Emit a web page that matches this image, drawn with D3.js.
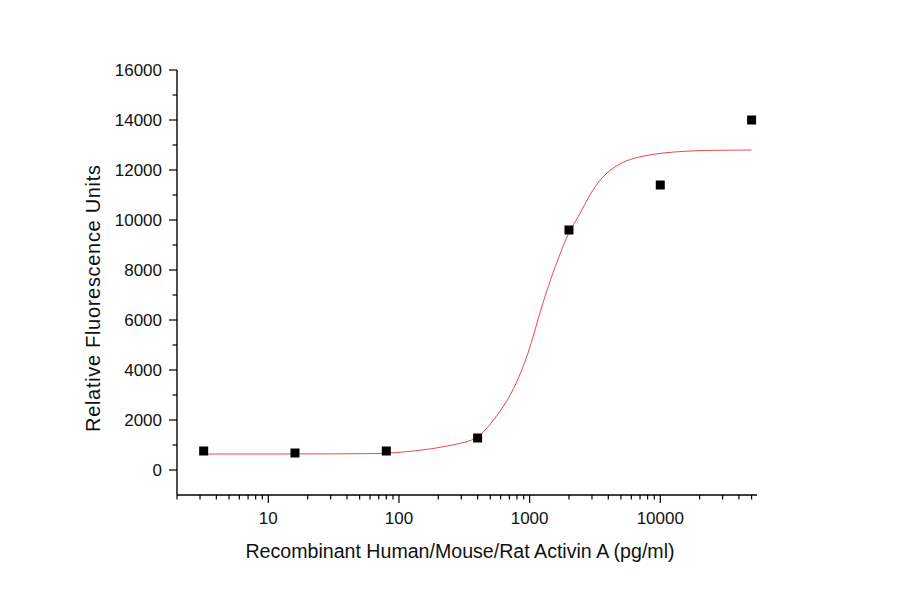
<!DOCTYPE html>
<html lang="en">
<head>
<meta charset="UTF-8" />
<script src="https://cdnjs.cloudflare.com/ajax/libs/d3/7.8.5/d3.min.js"></script>
<title>Activin A dose response</title>
<style>
body { margin: 0; background: #fff; }
svg text { font-family: Arial, "Liberation Sans", sans-serif; fill: #111; }
</style>
</head>
<body>
<svg id="chart" width="900" height="594"></svg>
<script>

// measured points (pg/ml -> RFU)
const conc = [3.2, 16, 80, 400, 2000, 10000, 50000];
const rfu = [760, 680, 760, 1280, 9600, 11400, 14000];

// fitted curve
const fitX = [3.2, 10, 31.6, 60, 87, 157, 237, 320, 403, 511, 686, 830, 978, 1100, 1236, 1400, 1566, 1800, 2042, 2300, 3000, 3790, 5100, 6860, 9770, 15560, 25000, 50000];
const fitY = [640, 640, 645, 655, 668, 800, 960, 1100, 1270, 1870, 2800, 3700, 4670, 5600, 6530, 7400, 8130, 8950, 9630, 10000, 11200, 11870, 12330, 12530, 12670, 12760, 12790, 12800];

const yTicks = [0, 2000, 4000, 6000, 8000, 10000, 12000, 14000, 16000];
const xTicks = [10, 100, 1000, 10000];

const svg = d3.select('#chart');

const x = d3.scaleLog().domain([2, 55000]).range([177, 757]);
const y = d3.scaleLinear().domain([-1000, 16000]).range([495, 70]);

// y axis
const yMinor = d3.range(1000, 16000, 2000);
const yAxis = svg.append('g').attr('transform', 'translate(177,0)');
yAxis.append('line')
  .attr('x1', 0).attr('x2', 0)
  .attr('y1', y(16000)).attr('y2', y(-1000))
  .style('stroke', '#000').style('stroke-width', 1.4);
yAxis.selectAll('.major').data(yTicks).enter().append('line')
  .attr('x1', -8).attr('x2', 0)
  .attr('y1', d => y(d)).attr('y2', d => y(d))
  .style('stroke', '#000').style('stroke-width', 1.2);
yAxis.selectAll('.minor').data(yMinor).enter().append('line')
  .attr('x1', -4.5).attr('x2', 0)
  .attr('y1', d => y(d)).attr('y2', d => y(d))
  .style('stroke', '#000').style('stroke-width', 1.2);
yAxis.selectAll('text').data(yTicks).enter().append('text')
  .attr('x', -15)
  .attr('y', d => y(d))
  .attr('dy', '0.36em')
  .attr('text-anchor', 'end')
  .style('font-size', '17px')
  .text(d => d);

// x axis
const xMinor = [];
[1, 10, 100, 1000, 10000].forEach(dec => {
  for (let k = 2; k <= 9; k++) {
    const v = dec * k;
    if (v >= 2 && v <= 55000) xMinor.push(v);
  }
});
const xAxis = svg.append('g').attr('transform', 'translate(0,' + y(-1000) + ')');
xAxis.append('line')
  .attr('x1', x(2)).attr('x2', x(55000))
  .attr('y1', 0).attr('y2', 0)
  .style('stroke', '#000').style('stroke-width', 1.4);
xAxis.selectAll('.major').data(xTicks).enter().append('line')
  .attr('x1', d => x(d)).attr('x2', d => x(d))
  .attr('y1', 0).attr('y2', 8)
  .style('stroke', '#000').style('stroke-width', 1.2);
xAxis.selectAll('.minor').data(xMinor).enter().append('line')
  .attr('x1', d => x(d)).attr('x2', d => x(d))
  .attr('y1', 0).attr('y2', 4.5)
  .style('stroke', '#000').style('stroke-width', 1.2);
xAxis.selectAll('text').data(xTicks).enter().append('text')
  .attr('x', d => x(d))
  .attr('y', 29)
  .attr('text-anchor', 'middle')
  .style('font-size', '17px')
  .text(d => d);

// axis titles
svg.append('text')
  .attr('x', 460).attr('y', 558)
  .attr('text-anchor', 'middle')
  .style('font-size', '19.6px')
  .text('Recombinant Human/Mouse/Rat Activin A (pg/ml)');

svg.append('text')
  .attr('transform', 'translate(100,298.5) rotate(-90)')
  .attr('text-anchor', 'middle')
  .attr('textLength', 267)
  .attr('lengthAdjust', 'spacing')
  .style('font-size', '20px')
  .text('Relative Fluorescence Units');

// fit line
const fitLine = d3.line()
  .x(d => x(d[0]))
  .y(d => y(d[1]))
  .curve(d3.curveBasis);
svg.append('path')
  .attr('d', fitLine(d3.zip(fitX, fitY)))
  .style('fill', 'none')
  .style('stroke', '#f03030')
  .style('stroke-width', 0.9);

// markers
const sq = 9;
svg.selectAll('.pt').data(d3.zip(conc, rfu)).enter().append('rect')
  .attr('x', d => x(d[0]) - sq / 2)
  .attr('y', d => y(d[1]) - sq / 2)
  .attr('width', sq).attr('height', sq)
  .style('fill', '#000');

</script>
</body>
</html>
